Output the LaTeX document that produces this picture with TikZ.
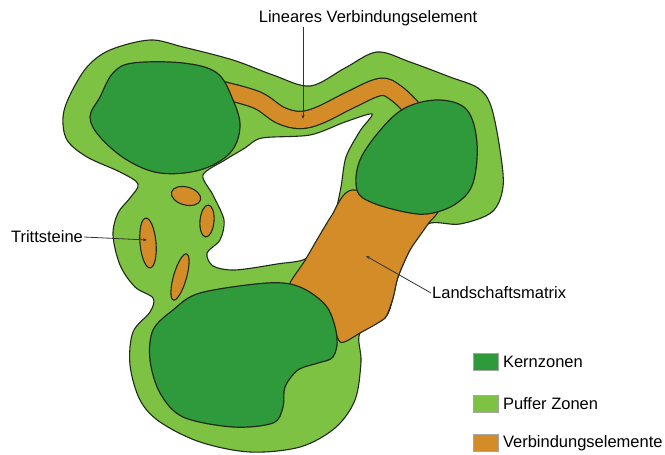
\documentclass[tikz,border=0pt]{standalone}
\usepackage{fontspec}
\setmainfont{Liberation Sans}
\usetikzlibrary{arrows.meta,positioning}
\definecolor{Core}{HTML}{2F9A3C}
\definecolor{Buffer}{HTML}{7DC243}
\definecolor{Link}{HTML}{D48C28}
\definecolor{Edge}{HTML}{1F2A18}
\definecolor{Leader}{HTML}{333333}
\tikzset{buffer/.style={fill=Buffer,draw=Edge,line width=1.1pt},core/.style={fill=Core,draw=Edge,line width=1.2pt},link/.style={fill=Link,draw=Edge,line width=1.1pt},hole/.style={fill=white,draw=Edge,line width=1.1pt},leader/.style={draw=Leader,line width=.8pt,-{Stealth[length=4pt,width=3pt]}},lbl/.style={font=\fontsize{16.5}{19}\selectfont,inner sep=1pt},swatch/.style={draw=gray!70,line width=.6pt,minimum width=25pt,minimum height=17pt,inner sep=0pt}}

\begin{document}
\begin{tikzpicture}[x=1pt,y=-1pt]
        \useasboundingbox(0,0)rectangle(665,455);
        % buffer zone with the open middle
        \draw[buffer]plot[smooth cycle,tension=.55]coordinates{(63,117)(70,95)(87,67)(110,50)(150,40)(183,47)(233,60)(273,75)(310,86)(345,68)(377,52)(410,62)(450,77)(478,88)(491,106)(500,150)(503,187)(492,212)(460,224)(428,224)(410,250)(398,277)(393,298)(385,318)(360,333)(361,362)(355,400)(335,428)(300,447)(250,452)(200,442)(160,422)(140,400)(130,365)(133,332)(150,312)(153,298)(135,287)(120,265)(113,235)(118,213)(130,198)(138,184)(120,172)(87,157)(67,140)};
        \draw[hole]plot[smooth cycle,tension=.5]coordinates{(203,175)(225,160)(245,148)(262,138)(310,135)(345,122)(372,114)(360,131)(346,157)(341,187)(335,212)(322,233)(307,258)(277,264)(235,270)(213,266)(207,253)(220,240)(224,220)(213,195)};
        % connecting elements
        \draw[link]plot[smooth cycle,tension=.35]coordinates{(352,190)(437,206)(428,224)(410,250)(398,277)(393,298)(385,318)(360,333)(340,342)(325,305)(298,287)(290,283)(304,262)(318,238)(332,215)};
        \draw[Edge,line width=18.5pt]plot[smooth,tension=.6]coordinates{(222,90)(257,100)(280,115)(300,120)(320,115)(350,100)(380,87)(396,93)(412,108)};
        \draw[Link,line width=16pt]plot[smooth,tension=.6]coordinates{(222,90)(257,100)(280,115)(300,120)(320,115)(350,100)(380,87)(396,93)(412,108)};
        \draw[link](186,196)ellipse[x radius=15,y radius=9,rotate=-15];
        \draw[link](207,221)ellipse[x radius=7,y radius=16,rotate=-5];
        \draw[link](148,243)ellipse[x radius=8,y radius=25,rotate=5];
        \draw[link](180,277)ellipse[x radius=6.5,y radius=24,rotate=-16];
        % core zones
        \draw[core]plot[smooth cycle,tension=.6]coordinates{(133,63)(183,63)(217,73)(233,100)(240,127)(230,153)(200,170)(160,173)(127,160)(100,137)(90,117)(100,97)(113,73)};
        \draw[core]plot[smooth cycle,tension=.6]coordinates{(440,100)(467,110)(477,143)(473,183)(457,203)(433,213)(410,213)(373,203)(357,190)(360,160)(383,127)(407,107)};
        \draw[core]plot[smooth cycle,tension=.55]coordinates{(200,293)(267,283)(300,287)(327,307)(337,337)(333,357)(318,363)(298,370)(285,387)(283,407)(273,423)(233,427)(183,417)(160,393)(150,360)(153,330)(173,310)};
        % labels
        \node[lbl](lve)at(368,18){Lineares Verbindungselement};
        \coordinate(lveEnd)at(303,119);
        \draw[leader](lve.south-|lveEnd)--(lveEnd);
        \node[lbl](tri)at(47,237){Trittsteine};
        \coordinate(triEnd)at(147,240);
        \draw[leader](tri.east)--(triEnd);
        \node[lbl,anchor=west](lsm)at(431,293){Landschaftsmatrix};
        \coordinate(lsmEnd)at(366,256);
        \draw[leader](lsm.west)--(lsmEnd);
        % legend
        \node[swatch,fill=Core](kz)at(486,362){};
        \node[lbl,right=3pt of kz]{Kernzonen};
        \node[swatch,fill=Buffer](pz)at(486,404){};
        \node[lbl,right=3pt of pz]{Puffer Zonen};
        \node[swatch,fill=Link](ve)at(486,443){};
        \node[lbl,right=3pt of ve]{Verbindungselemente};
      \end{tikzpicture}
\end{document}
